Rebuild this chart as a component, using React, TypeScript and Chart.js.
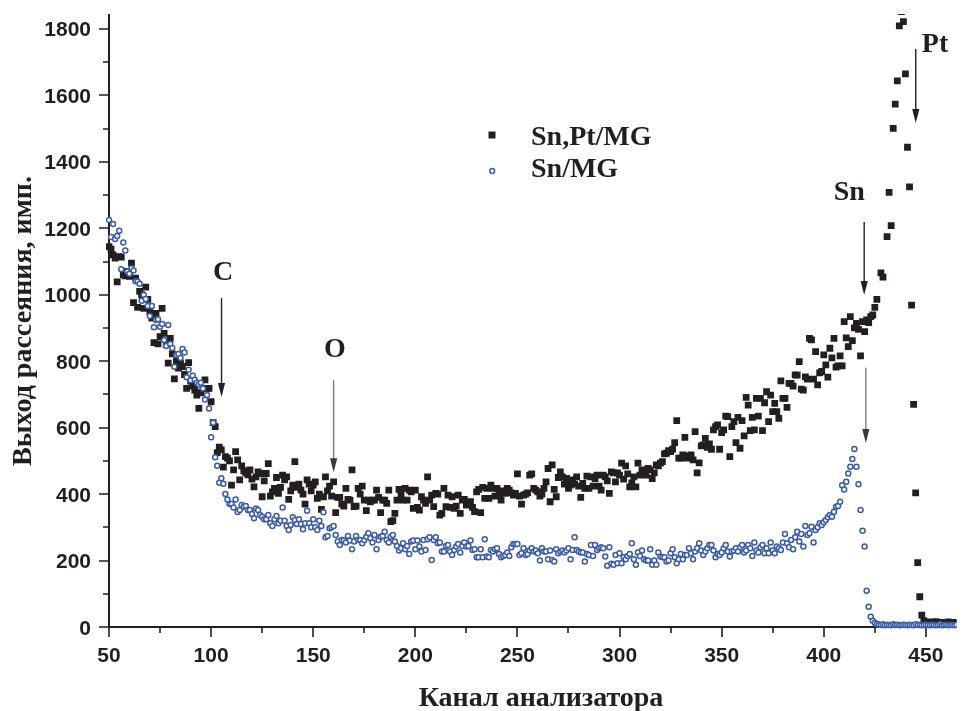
import React, { useEffect, useRef } from 'react';
import { Chart, registerables } from 'chart.js';

Chart.register(...registerables);

const FIRST_CHANNEL = 50;
const X_MIN = 50;
const X_MAX = 465;
const Y_MIN = 0;
const Y_MAX = 1845;

const X_MAJOR = [50, 100, 150, 200, 250, 300, 350, 400, 450];
const X_MINOR = [75, 125, 175, 225, 275, 325, 375, 425];
const Y_MAJOR = [0, 200, 400, 600, 800, 1000, 1200, 1400, 1600, 1800];
const Y_MINOR = [100, 300, 500, 700, 900, 1100, 1300, 1500, 1700];

const SERIES_NAMES = ['Sn,Pt/MG', 'Sn/MG'];
const X_TITLE = 'Канал анализатора';
const Y_TITLE = 'Выход рассеяния, имп.';

// Sn,Pt/MG, channels 50..465
const snPtMg: (number | null)[] = [
  1145, 1137, 1120, 1110, 1039, 1115, 1113, 1060, 1057, 1070,
  1055, 1095, 976, 1050, 962, 1010, 1000, 959, 1023, 986,
  949, 930, 856, 944, 852, 874, 959, 884, 850, 794,
  869, 822, 747, 800, 779, 794, 784, 760, 718, 796,
  740, 725, 713, 698, 658, 705, 718, 744, 718, 718,
  678, 615, 603, 525, 541, 533, 481, 513, 508, 500,
  427, 473, 528, 503, 443, 485, 470, 464, 458, 473,
  445, 422, 452, 467, 462, 392, 440, 462, 492, 394,
  407, 417, 450, 402, 420, 457, 443, 452, 384, 410,
  427, 498, 420, 430, 412, 400, 370, 443, 430, 410,
  427, 437, 387, 400, 354, 392, 452, 410, 424, 394,
  437, 344, 390, 390, 370, 364, 417, 384, 382, 473,
  362, 364, 417, 400, 424, 382, 350, 382, 377, 382,
  382, 412, 390, 344, 382, 382, 372, 412, 317, 320,
  342, 382, 414, 400, 382, 417, 382, 412, 407, 357,
  412, 360, 352, 392, 382, 372, 452, 382, 397, 362,
  402, 400, 337, 342, 417, 362, 397, 360, 392, 357,
  364, 397, 342, 382, 384, 367, 370, 377, 360, 347,
  407, 414, 344, 420, 387, 417, 387, 427, 417, 394,
  417, 400, 382, 410, 402, 417, 412, 404, 397, 402,
  461, 394, 370, 397, 400, 404, 457, 461, 417, 412,
  407, 394, 400, 417, 437, 477, 377, 488, 414, 392,
  450, 467, 452, 430, 447, 417, 427, 443, 430, 452,
  424, 390, 432, 417, 454, 417, 452, 424, 447, 457,
  424, 412, 457, 452, 440, 402, 467, 464, 437, 464,
  457, 493, 445, 485, 461, 422, 434, 452, 422, 493,
  457, 473, 464, 457, 477, 473, 447, 464, 488, 485,
  493, 498, 521, 523, 531, 528, 535, 555, 621, 508,
  508, 518, 571, 508, 515, 518, 503, 588, 464, 494,
  545, 548, 568, 541, 551, 535, 593, 603, 608, 535,
  585, 593, 635, 633, 513, 603, 618, 555, 631, 538,
  621, 575, 691, 668, 591, 631, 593, 688, 635, 688,
  591, 675, 708, 618, 698, 648, 673, 648, 628, 741,
  688, 688, 661, 733, 733, 725, 759, 758, 799, 716,
  713, 753, 746, 869, 864, 746, 829, 729, 765, 769,
  819, 789, 752, 839, 810, 869, 782, 786, 816, 786,
  919, 870, 844, 934, 862, 900, 914, 896, 816, 919,
  889, 924, 916, 934, 939, 962, 986, null, 1066, 1053,
  null, 1175, 1308, 1208, 1501, 1574, 1644, 1809, 1852, 1822,
  1665, 1444, 1325, 969, 670, 404, 194, 91, 36, 19,
  14, 12, 15, 11, 13, 16, 12, 14, 10, 13,
  12, 15, 11, 13, 12, 14,
];

// Sn/MG, channels 50..465
const snMg: (number | null)[] = [
  1225, 1174, 1213, 1168, 1177, 1193, 1077, 1157, 1133, 1070,
  1063, 1080, 1073, 1041, 1040, 1033, 982, 999, 987, 966,
  936, 966, 902, 924, 926, 904, 912, 864, 846, 909,
  852, 840, 783, 819, 822, 810, 837, 826, 752, 774,
  743, 756, 744, 735, 731, 735, 718, 685, 698, 658,
  571, 615, 511, 485, 434, 448, 431, 400, 384, 370,
  370, 360, 384, 346, 352, 367, 362, 364, 352, 352,
  340, 327, 357, 352, 337, 332, 324, 324, 337, 312,
  304, 324, 334, 312, 320, 360, 320, 304, 292, 307,
  330, 322, 310, 324, 310, 294, 312, 350, 312, 300,
  324, 300, 292, 320, 304, 345, 270, 274, 297, 300,
  304, 277, 257, 247, 262, 260, 254, 274, 260, 234,
  257, 274, 262, 262, 252, 262, 272, 282, 267, 254,
  277, 234, 262, 272, 274, 287, 262, 254, 272, 277,
  257, 244, 230, 237, 252, 234, 244, 220, 257, 260,
  234, 260, 242, 227, 262, 232, 264, 270, 202, 262,
  270, 252, 254, 227, 227, 244, 247, 227, 217, 232,
  242, 250, 224, 244, 254, 242, 244, 260, 232, 234,
  210, 210, 234, 210, 264, 212, 210, 232, 227, 234,
  237, 220, 210, 214, 217, 224, 214, 240, 250, 250,
  250, 217, 222, 237, 217, 220, 230, 237, 227, 230,
  222, 200, 237, 227, 227, 204, 230, 202, 197, 234,
  222, 227, 230, 224, 230, 237, 204, 232, 270, 232,
  227, 224, 224, 197, 220, 217, 247, 214, 247, 232,
  237, 240, 237, 212, 184, 240, 190, 187, 217, 192,
  222, 192, 210, 204, 214, 220, 252, 204, 187, 224,
  214, 230, 204, 200, 200, 234, 187, 200, 187, 224,
  212, 210, 210, 197, 200, 222, 234, 210, 192, 204,
  220, 204, 217, 217, 237, 222, 204, 227, 237, 252,
  230, 217, 227, 237, 247, 247, 230, 210, 220, 217,
  224, 237, 247, 227, 212, 227, 230, 237, 227, 240,
  247, 224, 230, 247, 237, 214, 254, 230, 224, 240,
  247, 222, 237, 222, 254, 230, 222, 242, 237, 232,
  254, 280, 252, 240, 262, 234, 270, 287, 257, 280,
  242, 304, 277, 282, 302, 254, 292, 300, 312, 307,
  315, 322, 330, 337, 332, 347, 362, 364, 377, 427,
  414, 437, 462, 482, 506, 536, 482, 430, 352, 290,
  242, 109, 61, 31, 19, 13, 9, 7, 6, 8,
  5, 7, 6, 5, 8, 6, 7, 5, 6, 7,
  6, 5, 7, 6, 5, 8, 6, 7, 5, 6,
  7, 6, 5, 7, 6, 5, 6, 8, 5, 6,
  7, 5, 6, 6, 5, 7,
];

// Element arrows: x channel, arrow from/to (counts), label anchor
const ARROWS = [
  { label: 'C', x: 105.1, from: 990, to: 692, lx: 105.9, ly: 1044, grey: false },
  { label: 'O', x: 160, from: 743, to: 466, lx: 160.6, ly: 812, grey: true },
  { label: 'Sn', x: 419.8, from: 1219, to: 999, lx: 412.5, ly: 1285, grey: false },
  { label: '', x: 420.6, from: 780, to: 554, lx: 0, ly: 0, grey: true },
  { label: 'Pt', x: 445.05, from: 1740, to: 1517, lx: 454.5, ly: 1731, grey: false },
];

const INK = '#231f20';
const BLUE = '#3a5ca8';
const SERIF = '"Liberation Serif", "Times New Roman", serif';
const SANS = '"Liberation Sans", Arial, sans-serif';

function toPoints(values: (number | null)[]) {
  const pts: { x: number; y: number }[] = [];
  values.forEach((v, i) => {
    if (v !== null) pts.push({ x: FIRST_CHANNEL + i, y: v });
  });
  return pts;
}

const decorPlugin = {
  id: 'decor',
  beforeDatasetsDraw(chart: any) {
    const { ctx, chartArea, scales } = chart;
    const xs = scales.x;
    const ys = scales.y;
    ctx.save();
    ctx.strokeStyle = INK;
    ctx.lineWidth = 2;
    ctx.beginPath();
    ctx.moveTo(chartArea.left, chartArea.top);
    ctx.lineTo(chartArea.left, chartArea.bottom);
    ctx.lineTo(chartArea.right, chartArea.bottom);
    ctx.stroke();
    ctx.lineWidth = 1.6;
    ctx.beginPath();
    Y_MAJOR.forEach((v) => {
      const y = Math.round(ys.getPixelForValue(v));
      ctx.moveTo(chartArea.left, y);
      ctx.lineTo(chartArea.left - 10, y);
    });
    Y_MINOR.forEach((v) => {
      const y = Math.round(ys.getPixelForValue(v));
      ctx.moveTo(chartArea.left, y);
      ctx.lineTo(chartArea.left - 6, y);
    });
    X_MAJOR.forEach((v) => {
      const x = Math.round(xs.getPixelForValue(v));
      ctx.moveTo(x, chartArea.bottom);
      ctx.lineTo(x, chartArea.bottom + 10);
    });
    X_MINOR.forEach((v) => {
      const x = Math.round(xs.getPixelForValue(v));
      ctx.moveTo(x, chartArea.bottom);
      ctx.lineTo(x, chartArea.bottom + 6);
    });
    ctx.stroke();

    ctx.fillStyle = INK;
    ctx.font = `bold 21px ${SANS}`;
    ctx.textAlign = 'right';
    ctx.textBaseline = 'alphabetic';
    Y_MAJOR.forEach((v) => {
      const y = ys.getPixelForValue(v);
      ctx.fillText(String(v), chartArea.left - 18, y + 7.5);
    });
    ctx.textAlign = 'center';
    X_MAJOR.forEach((v) => {
      const x = xs.getPixelForValue(v);
      ctx.fillText(String(v), x, chartArea.bottom + 35);
    });

    ctx.font = `bold 28px ${SERIF}`;
    ctx.fillText(X_TITLE, 541, 706);
    ctx.save();
    ctx.translate(31, 321);
    ctx.rotate(-Math.PI / 2);
    ctx.textAlign = 'center';
    ctx.fillText(Y_TITLE, 0, 0);
    ctx.restore();
    ctx.restore();
  },
  afterDatasetsDraw(chart: any) {
    const { ctx, scales } = chart;
    const xs = scales.x;
    const ys = scales.y;
    ctx.save();
    ARROWS.forEach((a) => {
      const x = xs.getPixelForValue(a.x);
      const y0 = ys.getPixelForValue(a.from);
      const y1 = ys.getPixelForValue(a.to);
      ctx.strokeStyle = a.grey ? '#7d7d7d' : INK;
      ctx.lineWidth = 1.4;
      ctx.beginPath();
      ctx.moveTo(x, y0);
      ctx.lineTo(x, y1 - 12);
      ctx.stroke();
      ctx.fillStyle = a.grey ? '#3a3a3a' : INK;
      ctx.beginPath();
      ctx.moveTo(x - 3.6, y1 - 14);
      ctx.lineTo(x + 3.6, y1 - 14);
      ctx.lineTo(x, y1);
      ctx.closePath();
      ctx.fill();
      if (a.label) {
        ctx.fillStyle = INK;
        ctx.font = `bold 28px ${SERIF}`;
        ctx.textAlign = 'center';
        ctx.textBaseline = 'alphabetic';
        ctx.fillText(a.label, xs.getPixelForValue(a.lx), ys.getPixelForValue(a.ly));
      }
    });

    // legend
    ctx.fillStyle = INK;
    ctx.fillRect(488.5, 131.5, 7, 7);
    ctx.beginPath();
    ctx.arc(492.2, 171, 2.4, 0, Math.PI * 2);
    ctx.fillStyle = '#ffffff';
    ctx.fill();
    ctx.strokeStyle = BLUE;
    ctx.lineWidth = 1.5;
    ctx.stroke();
    ctx.fillStyle = INK;
    ctx.font = `bold 28px ${SERIF}`;
    ctx.textAlign = 'left';
    ctx.textBaseline = 'alphabetic';
    ctx.fillText(SERIES_NAMES[0], 531, 145);
    ctx.fillText(SERIES_NAMES[1], 531, 177);
    ctx.restore();
  },
};

export default function App() {
  const ref = useRef<HTMLCanvasElement | null>(null);
  useEffect(() => {
    if (!ref.current) return;
    const chart = new Chart(ref.current, {
      type: 'scatter',
      data: {
        datasets: [
          {
            label: SERIES_NAMES[0],
            data: toPoints(snPtMg),
            pointStyle: 'rect',
            pointRadius: 4.8,
            backgroundColor: INK,
            borderWidth: 0,
            order: 2,
            clip: { left: 3, right: 0, top: 0, bottom: 5 },
          },
          {
            label: SERIES_NAMES[1],
            data: toPoints(snMg),
            pointStyle: 'circle',
            pointRadius: 2.5,
            borderWidth: 1.5,
            borderColor: BLUE,
            backgroundColor: '#ffffff',
            order: 1,
            clip: { left: 3, right: 0, top: 0, bottom: 5 },
          },
        ],
      },
      options: {
        responsive: false,
        devicePixelRatio: 1,
        animation: false,
        events: [],
        layout: { padding: { left: 109, right: 0, top: 14, bottom: 84 } },
        plugins: { legend: { display: false }, tooltip: { enabled: false } },
        scales: {
          x: { type: 'linear', min: X_MIN, max: X_MAX, display: false },
          y: { type: 'linear', min: Y_MIN, max: Y_MAX, display: false },
        },
      },
      plugins: [decorPlugin],
    } as any);
    return () => chart.destroy();
  }, []);
  return (
    <div style={{ position: 'absolute', left: 0, top: 0, width: 962, height: 711, background: '#fff' }}>
      <canvas ref={ref} width={962} height={711} style={{ display: 'block' }} />
    </div>
  );
}
